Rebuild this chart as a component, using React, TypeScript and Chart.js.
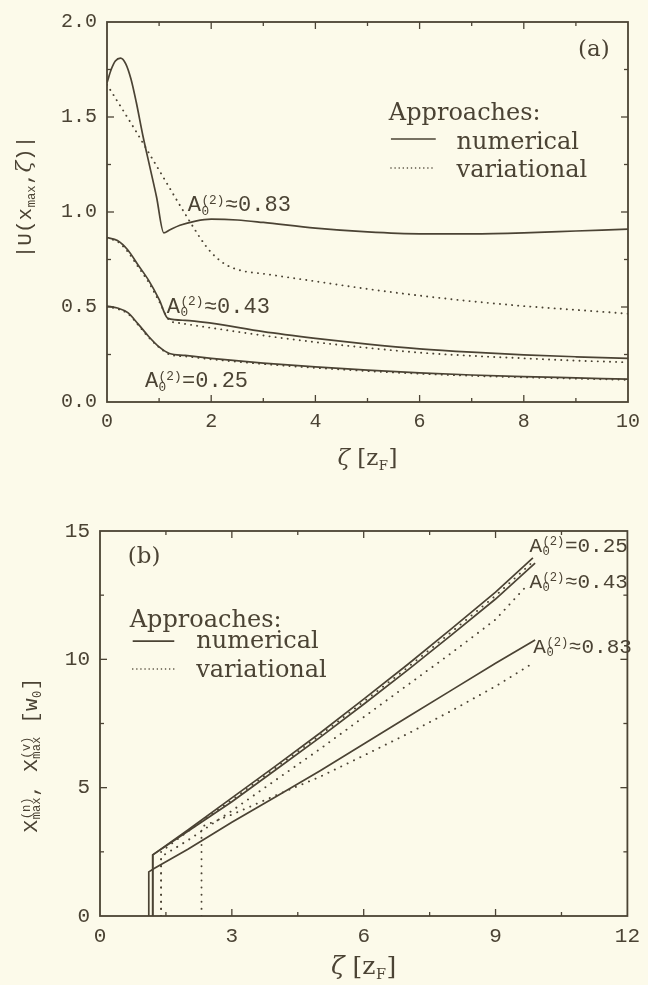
import React, { useEffect, useRef } from "react";
import { Chart, registerables } from "chart.js";

Chart.register(...registerables);

const BG = "#fcfaea";
const INK = "#4b4334";
const MONO = "'Liberation Mono', monospace";
const SERIF = "'DejaVu Serif', serif";

// ---------------- Panel (a): |U(x_max, zeta)| ----------------
const zetaA_num083 = [0, 0.08, 0.16, 0.26, 0.36, 0.46, 0.56, 0.69, 0.82, 0.95, 1.09, 1.2, 1.4, 1.7, 2, 2.5, 3, 4, 5, 6, 7, 8, 9, 10];
const uA_num083 = [1.68, 1.75, 1.795, 1.81, 1.78, 1.7, 1.58, 1.4, 1.24, 1.08, 0.89, 0.905, 0.93, 0.952, 0.962, 0.958, 0.945, 0.915, 0.895, 0.885, 0.885, 0.89, 0.9, 0.91];
const zetaA_var083 = [0, 0.5, 1, 1.5, 1.9, 2.1, 2.3, 2.6, 3, 4, 5, 6, 7, 8, 9, 10];
const uA_var083 = [1.67, 1.45, 1.22, 0.99, 0.82, 0.76, 0.72, 0.69, 0.675, 0.635, 0.595, 0.56, 0.53, 0.505, 0.485, 0.465];
const zetaA_num043 = [0, 0.2, 0.4, 0.6, 0.8, 1.0, 1.17, 1.5, 2, 3, 4, 5, 6, 7, 8, 9, 10];
const uA_num043 = [0.865, 0.85, 0.8, 0.72, 0.64, 0.54, 0.44, 0.43, 0.415, 0.37, 0.335, 0.305, 0.28, 0.262, 0.248, 0.238, 0.23];
const zetaA_var043 = [0, 0.2, 0.4, 0.6, 0.8, 1.0, 1.2, 1.4, 2, 3, 4, 5, 6, 7, 8, 9, 10];
const uA_var043 = [0.86, 0.845, 0.79, 0.71, 0.63, 0.53, 0.43, 0.415, 0.39, 0.35, 0.315, 0.285, 0.26, 0.243, 0.23, 0.218, 0.209];
const zetaA_num025 = [0, 0.2, 0.4, 0.6, 0.8, 1.0, 1.2, 1.5, 2, 3, 4, 5, 6, 7, 8, 9, 10];
const uA_num025 = [0.505, 0.495, 0.47, 0.41, 0.345, 0.29, 0.255, 0.245, 0.23, 0.205, 0.185, 0.168, 0.153, 0.142, 0.134, 0.127, 0.12];
const zetaA_var025 = [0, 0.2, 0.4, 0.6, 0.8, 1.0, 1.2, 1.5, 2, 3, 4, 5, 6, 7, 8, 9, 10];
const uA_var025 = [0.5, 0.49, 0.465, 0.405, 0.34, 0.288, 0.25, 0.24, 0.225, 0.2, 0.18, 0.163, 0.149, 0.138, 0.13, 0.123, 0.117];

// ---------------- Panel (b): X_max^(n), X_max^(v) ----------------
const zetaB_num025 = [1.2, 1.2, 2, 3, 4, 5, 6, 7, 8, 9, 9.85];
const xB_num025 = [0, 2.38, 3.35, 4.6, 5.85, 7.12, 8.45, 9.8, 11.2, 12.62, 13.95];
const zetaB_var025 = [1.39, 1.39, 2, 3, 4, 5, 6, 7, 8, 9, 9.85];
const xB_var025 = [0, 2.5, 3.3, 4.52, 5.78, 7.03, 8.35, 9.68, 11.07, 12.48, 13.8];
const zetaB_num043 = [1.2, 1.2, 2, 3, 4, 5, 6, 7, 8, 9, 9.9];
const xB_num043 = [0, 2.38, 3.3, 4.45, 5.7, 6.95, 8.25, 9.58, 10.95, 12.35, 13.75];
const zetaB_var043 = [1.39, 1.39, 2, 3, 4, 5, 6, 7, 8, 9, 9.7];
const xB_var043 = [0, 2.31, 2.95, 4.1, 5.3, 6.5, 7.75, 9.0, 10.25, 11.55, 12.85];
const zetaB_num083 = [1.11, 1.11, 1.24, 2, 3, 4, 5, 6, 7, 8, 9, 9.9];
const xB_num083 = [0, 1.72, 1.86, 2.6, 3.65, 4.65, 5.65, 6.7, 7.75, 8.8, 9.85, 10.75];
const zetaB_var083 = [2.31, 2.31, 3, 4, 5, 6, 7, 8, 9, 9.85];
const xB_var083 = [0, 3.48, 3.95, 4.7, 5.42, 6.25, 7.1, 8.0, 8.95, 9.85];

// axis ranges / ticks
const axisA = { xMin: 0, xMax: 10, xMajor: 2, xMinor: 1, yMin: 0, yMax: 2, yMajor: 0.5, yMinor: 0.25 };
const axisB = { xMin: 0, xMax: 12, xMajor: 3, xMinor: 1.5, yMin: 0, yMax: 15, yMajor: 5, yMinor: 2.5 };

const labelsA = ["0.83", "0.43", "0.25"];
const labelsB = ["0.25", "0.43", "0.83"];

type Seg = { t?: string; sub?: string; sup?: string; italic?: boolean; fam?: string };

function fnt(size: number, fam: string, italic?: boolean) {
  return `${italic ? "italic " : ""}${size}px ${fam}`;
}

function segWidth(ctx: CanvasRenderingContext2D, s: Seg, size: number, fam: string) {
  let w = 0;
  if (s.t) {
    ctx.font = fnt(size, s.fam || fam, s.italic);
    w += ctx.measureText(s.t).width;
  }
  if (s.sub || s.sup) {
    ctx.font = fnt(size * 0.58, s.fam || fam);
    const a = s.sub ? ctx.measureText(s.sub).width : 0;
    const b = s.sup ? ctx.measureText(s.sup).width : 0;
    w += Math.max(a, b) + 1;
  }
  return w;
}

function drawRich(ctx: CanvasRenderingContext2D, segs: Seg[], x: number, y: number, size: number, fam: string, align: "left" | "center") {
  const total = segs.reduce((acc, s) => acc + segWidth(ctx, s, size, fam), 0);
  let cx = align === "center" ? x - total / 2 : x;
  ctx.textAlign = "left";
  ctx.textBaseline = "alphabetic";
  for (const s of segs) {
    if (s.t) {
      ctx.font = fnt(size, s.fam || fam, s.italic);
      ctx.fillText(s.t, cx, y);
      cx += ctx.measureText(s.t).width;
    }
    if (s.sub || s.sup) {
      const small = size * 0.58;
      ctx.font = fnt(small, s.fam || fam);
      let w = 0;
      if (s.sup) {
        ctx.fillText(s.sup, cx + 0.5, y - size * 0.34);
        w = Math.max(w, ctx.measureText(s.sup).width);
      }
      if (s.sub) {
        ctx.fillText(s.sub, cx + 0.5, y + size * (s.sup ? 0.16 : 0.2));
        w = Math.max(w, ctx.measureText(s.sub).width);
      }
      cx += w + 1;
    }
  }
}

type TextItem = { segs: Seg[]; x: number; y: number; size: number; fam: string };
type LegendCfg = { x: number; yHead: number; sx0: number; sx1: number; ySolid: number; yDot: number; tx: number; yT1: number; yT2: number; size: number; dash: number[] };
type DecoCfg = {
  id: string;
  axis: typeof axisA;
  texts: TextItem[]; // data coords
  legend: LegendCfg;
  xTitle: { segs: Seg[]; dy: number; size: number };
  yTitle: { segs: Seg[]; x: number; y: number; size: number; fam: string };
};

function makeDeco(cfg: DecoCfg) {
  return {
    id: "deco_" + cfg.id,
    afterDraw(chart: any) {
      const ctx: CanvasRenderingContext2D = chart.ctx;
      const { left, right, top, bottom } = chart.chartArea;
      const xs = chart.scales.x;
      const ys = chart.scales.y;
      const ax = cfg.axis;
      ctx.save();
      ctx.fillStyle = INK;
      ctx.strokeStyle = INK;
      ctx.lineWidth = 1.8;
      ctx.strokeRect(left, top, right - left, bottom - top);
      ctx.lineWidth = 1.3;
      const seg = (x1: number, y1: number, x2: number, y2: number) => {
        ctx.beginPath();
        ctx.moveTo(x1, y1);
        ctx.lineTo(x2, y2);
        ctx.stroke();
      };
      const isMajor = (v: number, step: number) => Math.abs(v / step - Math.round(v / step)) < 1e-6;
      for (let v = ax.xMin + ax.xMinor; v < ax.xMax - 1e-9; v += ax.xMinor) {
        const p = xs.getPixelForValue(v);
        const len = isMajor(v, ax.xMajor) ? 7 : 4;
        seg(p, bottom, p, bottom - len);
        seg(p, top, p, top + len);
      }
      for (let v = ax.yMin + ax.yMinor; v < ax.yMax - 1e-9; v += ax.yMinor) {
        const p = ys.getPixelForValue(v);
        const len = isMajor(v, ax.yMajor) ? 7 : 4;
        seg(left, p, left + len, p);
        seg(right, p, right - len, p);
      }
      for (const t of cfg.texts) {
        drawRich(ctx, t.segs, xs.getPixelForValue(t.x), ys.getPixelForValue(t.y), t.size, t.fam, "left");
      }
      const L = cfg.legend;
      ctx.font = fnt(L.size, SERIF);
      ctx.textAlign = "left";
      ctx.textBaseline = "alphabetic";
      ctx.fillText("Approaches:", xs.getPixelForValue(L.x), ys.getPixelForValue(L.yHead));
      ctx.fillText("numerical", xs.getPixelForValue(L.tx), ys.getPixelForValue(L.yT1));
      ctx.fillText("variational", xs.getPixelForValue(L.tx), ys.getPixelForValue(L.yT2));
      ctx.lineWidth = 1.6;
      seg(xs.getPixelForValue(L.sx0), ys.getPixelForValue(L.ySolid), xs.getPixelForValue(L.sx1), ys.getPixelForValue(L.ySolid));
      ctx.setLineDash(L.dash);
      ctx.lineCap = "round";
      ctx.lineWidth = 1.5;
      seg(xs.getPixelForValue(L.sx0), ys.getPixelForValue(L.yDot), xs.getPixelForValue(L.sx1), ys.getPixelForValue(L.yDot));
      ctx.setLineDash([]);
      ctx.lineCap = "butt";
      drawRich(ctx, cfg.xTitle.segs, (left + right) / 2, bottom + cfg.xTitle.dy, cfg.xTitle.size, SERIF, "center");
      ctx.save();
      ctx.translate(cfg.yTitle.x, cfg.yTitle.y);
      ctx.rotate(-Math.PI / 2);
      drawRich(ctx, cfg.yTitle.segs, 0, 0, cfg.yTitle.size, cfg.yTitle.fam, "center");
      ctx.restore();
      ctx.restore();
    },
  };
}

function ds(xv: number[], yv: number[], dotted: boolean, smooth: boolean, gap: number) {
  return {
    data: xv.map((x, i) => ({ x, y: yv[i] })),
    borderColor: INK,
    borderWidth: dotted ? 1.9 : 1.7,
    borderDash: dotted ? [0.1, gap] : [],
    borderCapStyle: dotted ? "round" : "butt",
    pointRadius: 0,
    fill: false,
    tension: 0,
    cubicInterpolationMode: smooth ? "monotone" : "default",
  } as any;
}

const aLabel = (op: string, val: string): Seg[] => [{ t: "A" }, { sub: "0", sup: "(2)" }, { t: op + val }];
const zTitle: Seg[] = [{ t: "ζ", italic: true }, { t: " [z" }, { sub: "F" }, { t: "]" }];

function scaleOpts(ax: typeof axisA, tickSize: number, xPad: number, yPad: number, xH: number, yW: number, yFmt: (v: number) => string) {
  return {
    x: {
      type: "linear",
      min: ax.xMin,
      max: ax.xMax,
      grid: { display: false, drawTicks: false, tickLength: 0 },
      border: { display: false },
      ticks: { stepSize: ax.xMajor, color: INK, font: { family: "Liberation Mono", size: tickSize }, padding: xPad, maxRotation: 0, autoSkip: false },
      afterFit: (s: any) => {
        s.height = xH;
      },
    },
    y: {
      type: "linear",
      min: ax.yMin,
      max: ax.yMax,
      grid: { display: false, drawTicks: false, tickLength: 0 },
      border: { display: false },
      ticks: { stepSize: ax.yMajor, color: INK, font: { family: "Liberation Mono", size: tickSize }, padding: yPad, callback: (v: any) => yFmt(Number(v)) },
      afterFit: (s: any) => {
        s.width = yW;
      },
    },
  } as any;
}

export default function App() {
  const refA = useRef<HTMLCanvasElement>(null);
  const refB = useRef<HTMLCanvasElement>(null);

  useEffect(() => {
    const decoA = makeDeco({
      id: "a",
      axis: axisA,
      texts: [
        { segs: aLabel("≈", labelsA[0]), x: 1.55, y: 1.003, size: 22, fam: MONO },
        { segs: aLabel("≈", labelsA[1]), x: 1.147, y: 0.47, size: 22, fam: MONO },
        { segs: aLabel("=", labelsA[2]), x: 0.727, y: 0.078, size: 22, fam: MONO },
        { segs: [{ t: "(a)" }], x: 9.04, y: 1.822, size: 23, fam: SERIF },
      ],
      legend: { x: 5.41, yHead: 1.483, sx0: 5.45, sx1: 6.31, ySolid: 1.384, yDot: 1.232, tx: 6.71, yT1: 1.332, yT2: 1.185, size: 24, dash: [0.1, 4] },
      xTitle: { segs: zTitle, dy: 63, size: 23 },
      yTitle: { segs: [{ t: "|U(x" }, { sub: "max" }, { t: "," }, { t: "ζ", italic: true, fam: SERIF }, { t: ")|" }], x: 31, y: 197, size: 21, fam: MONO },
    });
    const chartA = new Chart(refA.current!, {
      type: "line",
      data: {
        datasets: [
          ds(zetaA_num083, uA_num083, false, true, 6),
          ds(zetaA_var083, uA_var083, true, true, 6),
          ds(zetaA_num043, uA_num043, false, true, 6),
          ds(zetaA_var043, uA_var043, true, true, 6),
          ds(zetaA_num025, uA_num025, false, true, 6),
          ds(zetaA_var025, uA_var025, true, true, 6),
        ],
      },
      options: {
        responsive: false,
        animation: false,
        devicePixelRatio: 1,
        layout: { padding: { top: 19, right: 18, left: 0, bottom: 0 } },
        plugins: { legend: { display: false }, tooltip: { enabled: false } },
        scales: scaleOpts(axisA, 20, 8, 10, 88, 107, (v) => v.toFixed(1)),
      },
      plugins: [decoA],
    } as any);

    const decoB = makeDeco({
      id: "b",
      axis: axisB,
      texts: [
        { segs: aLabel("=", labelsB[0]), x: 9.77, y: 14.18, size: 21, fam: MONO },
        { segs: aLabel("≈", labelsB[1]), x: 9.77, y: 12.78, size: 21, fam: MONO },
        { segs: aLabel("≈", labelsB[2]), x: 9.86, y: 10.25, size: 21, fam: MONO },
        { segs: [{ t: "(b)" }], x: 0.63, y: 13.75, size: 23, fam: SERIF },
      ],
      legend: { x: 0.677, yHead: 11.26, sx0: 0.744, sx1: 1.69, ySolid: 10.71, yDot: 9.62, tx: 2.19, yT1: 10.44, yT2: 9.31, size: 24, dash: [0.1, 4] },
      xTitle: { segs: zTitle, dy: 58, size: 25 },
      yTitle: {
        segs: [{ t: "X" }, { sub: "max", sup: "(n)" }, { t: ", X" }, { sub: "max", sup: "(v)" }, { t: " [w" }, { sub: "0" }, { t: "]" }],
        x: 37,
        y: 265,
        size: 21,
        fam: MONO,
      },
    });
    const chartB = new Chart(refB.current!, {
      type: "line",
      data: {
        datasets: [
          ds(zetaB_num025, xB_num025, false, false, 7),
          ds(zetaB_var025, xB_var025, true, false, 7),
          ds(zetaB_num043, xB_num043, false, false, 7),
          ds(zetaB_var043, xB_var043, true, false, 7),
          ds(zetaB_num083, xB_num083, false, false, 7),
          ds(zetaB_var083, xB_var083, true, false, 7),
        ],
      },
      options: {
        responsive: false,
        animation: false,
        devicePixelRatio: 1,
        layout: { padding: { top: 41, right: 16, left: 0, bottom: 0 } },
        plugins: { legend: { display: false }, tooltip: { enabled: false } },
        scales: scaleOpts(axisB, 21, 8, 10, 69, 100, (v) => String(v)),
      },
      plugins: [decoB],
    } as any);

    return () => {
      chartA.destroy();
      chartB.destroy();
    };
  }, []);

  return (
    <div style={{ position: "fixed", left: 0, top: 0, width: 648, height: 985, background: BG, overflow: "hidden" }}>
      <canvas ref={refA} width={648} height={490} style={{ display: "block", width: 648, height: 490 }} />
      <canvas ref={refB} width={648} height={495} style={{ display: "block", width: 648, height: 495 }} />
    </div>
  );
}
